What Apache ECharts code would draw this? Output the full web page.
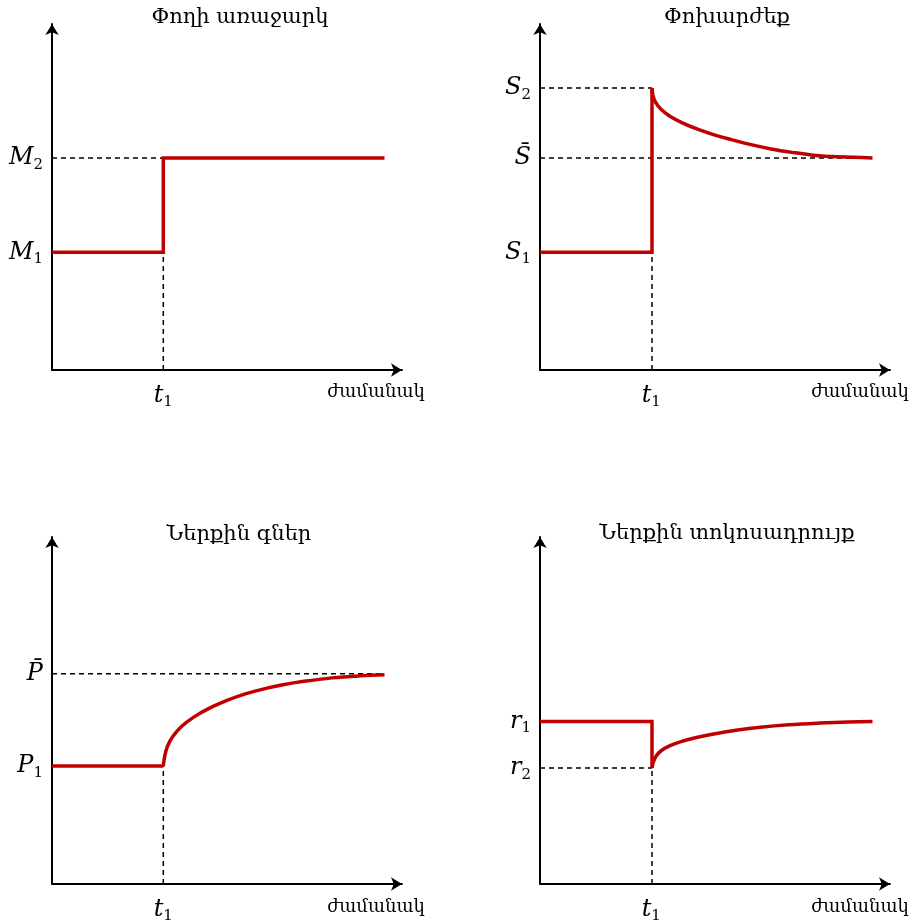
<!DOCTYPE html>
<html>
<head>
<meta charset="utf-8">
<title>chart</title>
<script src="https://cdn.jsdelivr.net/npm/echarts@6/dist/echarts.min.js"></script>
<style>
html, body { margin: 0; padding: 0; background: #fff; }
#main { width: 916px; height: 924px; }
</style>
</head>
<body>
<div id="main"></div>
<script>
// time axis: shock moment and end of the drawn path
var t1 = 31.8;
var tEnd = 95;

// Փողի առաջարկ : M1, M2
var moneyLevels = [34, 61.3];
// Փոխարժեք : S1, S2, S̄
var rateLevels = [34, 81.5, 61.3];
var rateCurve = [[32.0, 81.5], [32.3, 79.2], [33.0, 77.4], [34.5, 75.4], [37.0, 73.4], [40.5, 71.5], [45.0, 69.6],
	[50.0, 67.9], [55.0, 66.5], [60.0, 65.2], [66.0, 63.9], [72.0, 62.9], [78.0, 62.1], [85.0, 61.6], [95, 61.3]];
// Ներքին գներ : P1, P̄
var priceLevels = [34, 60.6];
var priceCurve = [[31.8, 34.0], [32.2, 36.8], [33.0, 39.7], [34.5, 42.5], [37.0, 45.4], [40.5, 48.1], [45.0, 50.7],
	[50.0, 52.9], [55.0, 54.7], [60.0, 56.1], [66.0, 57.4], [72.0, 58.4], [80.0, 59.4], [88.0, 60.0], [95, 60.3]];
// Ներքին տոկոսադրույք : r1, r2
var interestLevels = [46.8, 33.4];
var interestCurve = [[32.0, 33.4], [32.4, 35.2], [33.2, 36.9], [34.6, 38.4], [37.0, 39.8], [40.5, 41.1], [45.0, 42.3],
	[50.0, 43.3], [56.0, 44.3], [63.0, 45.2], [71.0, 45.9], [80.0, 46.4], [88.0, 46.7], [95, 46.8]];

var titles = ['Փողի առաջարկ', 'Փոխարժեք', 'Ներքին գներ', 'Ներքին տոկոսադրույք'];
var timeName = 'ժամանակ';

var RED = '#c00000';
var MATH = 'DejaVu Serif';
var TEXT_FONT = 'DejaVu Serif';

var rich = {
	i: { fontFamily: MATH, fontStyle: 'italic', fontSize: 24, color: '#000' },
	s: { fontFamily: MATH, fontSize: 15, color: '#000', padding: [14, 0, 0, 0] }
};

var grids = [
	{ left: 52, top: 24, width: 350, height: 346 },
	{ left: 540, top: 24, width: 350, height: 346 },
	{ left: 52, top: 537, width: 350, height: 350 },
	{ left: 540, top: 537, width: 350, height: 350 }
];

function xAxisFor(idx) {
	return {
		gridIndex: idx, type: 'value', min: 0, max: 100,
		axisLine: { show: true, symbol: ['none', 'arrow'], symbolSize: [10, 11], lineStyle: { color: '#000', width: 2 } },
		axisTick: { show: false },
		splitLine: { show: false },
		axisLabel: {
			customValues: [t1], margin: 11, rich: rich,
			formatter: function () { return '{i|t}{s|1}'; }
		}
	};
}

function yAxisFor(idx, values, names) {
	return {
		gridIndex: idx, type: 'value', min: 0, max: 100,
		axisLine: { show: true, symbol: ['none', 'arrow'], symbolSize: [10, 11], lineStyle: { color: '#000', width: 2 } },
		axisTick: { show: false },
		splitLine: { show: false },
		axisLabel: {
			customValues: values, margin: 9, rich: rich,
			formatter: function (v) {
				var k = values.indexOf(v);
				return names[k];
			}
		}
	};
}

function redLine(idx, data, smooth) {
	return {
		type: 'line', xAxisIndex: idx, yAxisIndex: idx, data: data,
		showSymbol: false, symbol: 'none', smooth: smooth ? 0.4 : false,
		lineStyle: { color: RED, width: 3.5, cap: 'butt', join: 'miter' }, z: 5, silent: true
	};
}

function dashLine(idx, data) {
	return {
		type: 'line', xAxisIndex: idx, yAxisIndex: idx, data: data,
		showSymbol: false, symbol: 'none',
		lineStyle: { color: '#000', width: 1.5, type: [5, 4] }, z: 2, silent: true
	};
}

var series = [
	// 1: money supply step
	dashLine(0, [[0, moneyLevels[1]], [t1 + 7, moneyLevels[1]]]),
	dashLine(0, [[t1, 0], [t1, moneyLevels[0]]]),
	redLine(0, [[0, moneyLevels[0]], [t1, moneyLevels[0]], [t1, moneyLevels[1]], [tEnd, moneyLevels[1]]]),
	// 2: exchange rate overshooting
	dashLine(1, [[0, rateLevels[1]], [rateCurve[0][0], rateLevels[1]]]),
	dashLine(1, [[0, rateLevels[2]], [tEnd, rateLevels[2]]]),
	dashLine(1, [[rateCurve[0][0], 0], [rateCurve[0][0], rateLevels[0]]]),
	redLine(1, [[0, rateLevels[0]], [rateCurve[0][0], rateLevels[0]], [rateCurve[0][0], rateLevels[1]]]),
	redLine(1, rateCurve, true),
	// 3: prices
	dashLine(2, [[0, priceLevels[1]], [tEnd, priceLevels[1]]]),
	dashLine(2, [[t1, 0], [t1, priceLevels[0]]]),
	redLine(2, [[0, priceLevels[0]], [t1, priceLevels[0]]]),
	redLine(2, priceCurve, true),
	// 4: interest rate
	dashLine(3, [[0, interestLevels[1]], [interestCurve[0][0], interestLevels[1]]]),
	dashLine(3, [[interestCurve[0][0], 0], [interestCurve[0][0], interestLevels[1]]]),
	redLine(3, [[0, interestLevels[0]], [interestCurve[0][0], interestLevels[0]], [interestCurve[0][0], interestLevels[1]]]),
	redLine(3, interestCurve, true)
];

// titles and axis names as free text
var textPos = [[240, 18, 376, 392], [727, 18, 860, 392], [239, 535, 376, 907], [727, 534, 860, 907]];
var graphic = [];
textPos.forEach(function (p, i) {
	graphic.push({
		type: 'text', x: p[0], y: p[1],
		style: { text: titles[i], fill: '#000', font: '21px "' + TEXT_FONT + '"', textAlign: 'center', textVerticalAlign: 'middle' }
	});
	graphic.push({
		type: 'text', x: p[2], y: p[3],
		style: { text: timeName, fill: '#000', font: '18px "' + TEXT_FONT + '"', textAlign: 'center', textVerticalAlign: 'middle' }
	});
});

var myChart = echarts.init(document.getElementById('main'));
var option = {
	backgroundColor: '#fff',
	animation: false,
	grid: grids,
	xAxis: [xAxisFor(0), xAxisFor(1), xAxisFor(2), xAxisFor(3)],
	yAxis: [
		yAxisFor(0, moneyLevels, ['{i|M}{s|1}', '{i|M}{s|2}']),
		yAxisFor(1, rateLevels, ['{i|S}{s|1}', '{i|S}{s|2}', '{i|S\u0304}']),
		yAxisFor(2, priceLevels, ['{i|P}{s|1}', '{i|P\u0304}']),
		yAxisFor(3, interestLevels, ['{i|r}{s|1}', '{i|r}{s|2}'])
	],
	series: series,
	graphic: graphic
};
myChart.setOption(option);
</script>
</body>
</html>
